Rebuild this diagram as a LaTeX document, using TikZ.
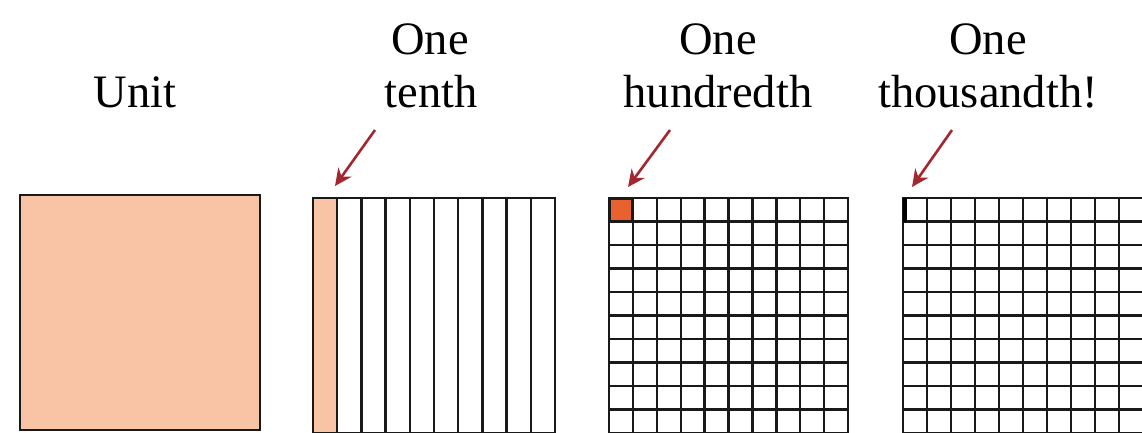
\documentclass[tikz,border=0pt]{standalone}
\usepackage{fontspec}
\setmainfont{Liberation Serif}
\usetikzlibrary{arrows.meta}
\definecolor{peach}{HTML}{F9C3A6}
\definecolor{orangecell}{HTML}{E8622F}
\definecolor{arrowred}{HTML}{A3272E}
\begin{document}
\begin{tikzpicture}[x=1pt,y=1pt,
  lbl/.style={anchor=base,inner sep=0pt,font=\fontsize{46.5}{53}\selectfont},
  gridline/.style={line width=2.4pt,draw=black!90},
  pointer/.style={draw=arrowred,line width=2.6pt,-{Stealth[length=17pt,width=16pt]}}]
\useasboundingbox (0,0) rectangle (1142,432);
\clip (0,0) rectangle (1142,432);
% labels
\node[lbl] (unit) at (135,324) {Unit};
\node[lbl] (tenA) at (430,377) {One};
\node[lbl] (tenB) at (431,324) {tenth};
\node[lbl] (hunA) at (718,377) {One};
\node[lbl] (hunB) at (718,324) {hundredth};
\node[lbl] (thoA) at (988,377) {One};
\node[lbl] (thoB) at (988,324) {thousandth!};
% unit square
\filldraw[fill=peach,gridline] (20,2) rectangle (260,237);
% tenth
\fill[peach] (313,-1) rectangle (337.2,234);
\foreach \i in {1,...,9} \draw[gridline] ({313+\i*24.2},-1) -- ({313+\i*24.2},234);
\draw[gridline] (313,-1) rectangle (555,234);
% hundredth
\fill[orangecell] (609,210.5) rectangle (632.9,234);
\foreach \i in {1,...,9} {
  \draw[gridline] ({609+\i*23.9},-1) -- ({609+\i*23.9},234);
  \draw[gridline] (609,{234-\i*23.5}) -- (848,{234-\i*23.5});
}
\draw[gridline] (609,-1) rectangle (848,234);
\draw[line width=3pt,draw=black!90] (609,210.5) rectangle (632.9,234);
% thousandth
\foreach \i in {1,...,9} {
  \draw[gridline] ({903+\i*24},-1) -- ({903+\i*24},234);
  \draw[gridline] (903,{234-\i*23.5}) -- (1143,{234-\i*23.5});
}
\draw[gridline] (903,-1) rectangle (1143,234);
\fill[black] (903,210.5) rectangle (906.5,234);
% arrows
\coordinate (a1s) at (375,302);
\coordinate (a1e) at (335,246);
\coordinate (a2s) at (670,302);
\coordinate (a2e) at (628,245);
\coordinate (a3s) at (952,302);
\coordinate (a3e) at (912,245);
\draw[pointer] (a1s) -- (a1e);
\draw[pointer] (a2s) -- (a2e);
\draw[pointer] (a3s) -- (a3e);
\end{tikzpicture}
\end{document}
